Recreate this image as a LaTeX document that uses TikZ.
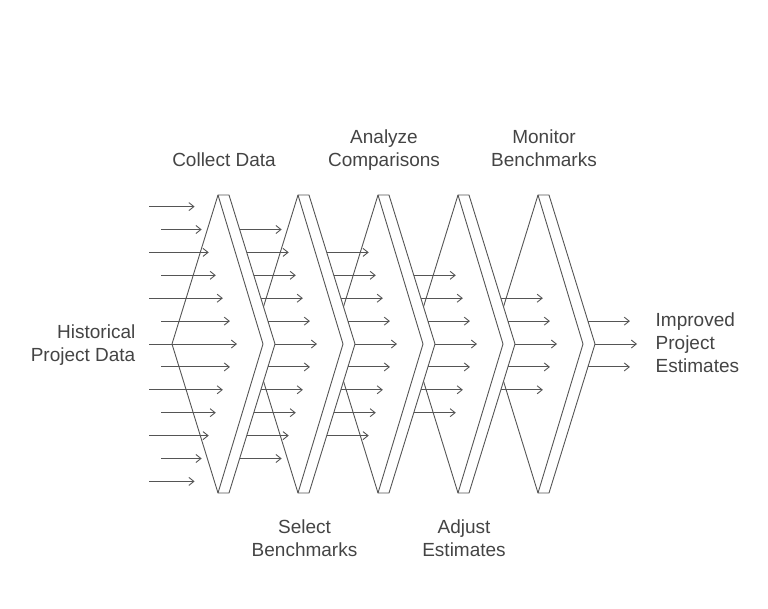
\documentclass[tikz,border=0pt]{standalone}
\usepackage{fontspec}
\setmainfont{Liberation Sans}
\usetikzlibrary{arrows.meta}
\definecolor{linec}{HTML}{555555}
\definecolor{textc}{HTML}{444444}
\begin{document}
\begin{tikzpicture}[x=1pt,y=-1pt,
  stage/.style={draw=linec,fill=white,line width=0.9pt,line join=miter},
  inner/.style={draw=linec,line width=0.9pt},
  flow/.style={draw=linec,line width=0.9pt,-{Straight Barb[length=5pt,width=8pt]}},
  lbl/.style={text=textc,font=\fontsize{19}{23}\selectfont,inner sep=0pt,align=center}]
\useasboundingbox (0,0) rectangle (768,608);
% stages, drawn right to left so that each covers the next one's left edges
\foreach \i in {4,3,2,1,0}{
  \pgfmathsetmacro{\T}{218+80*\i}
  \path[stage] (\T-46,344) -- (\T,195) -- (\T+11,195) -- (\T+57,344) -- (\T+11,493) -- (\T,493) -- cycle;
  \draw[inner] (\T,195) -- (\T+45,344) -- (\T,493);
}
% input arrows
\foreach \j in {-6,...,6}{
  \pgfmathsetmacro{\y}{344+\j*22.9}
  \pgfmathtruncatemacro{\aj}{abs(\j)}
  \pgfmathsetmacro{\sx}{ifthenelse(mod(\aj,2)==0,149,161)}
  \pgfmathsetmacro{\tx}{237-\aj*7.07}
  \coordinate (s0-\j) at (\sx,\y);
  \coordinate (t0-\j) at (\tx,\y);
  \draw[flow] (s0-\j) -- (t0-\j);
}
% arrows between stages and output
\foreach \k in {1,...,5}{
  \pgfmathtruncatemacro{\m}{6-\k}
  \foreach \j in {-\m,...,\m}{
    \pgfmathsetmacro{\y}{344+\j*22.9}
    \pgfmathsetmacro{\sx}{275+80*(\k-1)-abs(\j)*7.07}
    \coordinate (s\k-\j) at (\sx,\y);
    \coordinate (t\k-\j) at (\sx+42,\y);
    \draw[flow] (s\k-\j) -- (t\k-\j);
  }
}
% labels (anchor base = baseline of the last line)
\node[lbl,anchor=base] (collect) at (224,166.5) {Collect Data};
\node[lbl,anchor=base] (analyze) at (384,166.5) {Analyze\\Comparisons};
\node[lbl,anchor=base] (monitor) at (544,166.5) {Monitor\\Benchmarks};
\node[lbl,anchor=base] (select) at (304.5,556) {Select\\Benchmarks};
\node[lbl,anchor=base] (adjust) at (464,556) {Adjust\\Estimates};
\node[lbl,anchor=base east,align=right] (hist) at (135.5,361) {Historical\\Project Data};
\node[lbl,anchor=base west,align=left] (impr) at (655.5,372) {Improved\\Project\\Estimates};
\end{tikzpicture}
\end{document}
